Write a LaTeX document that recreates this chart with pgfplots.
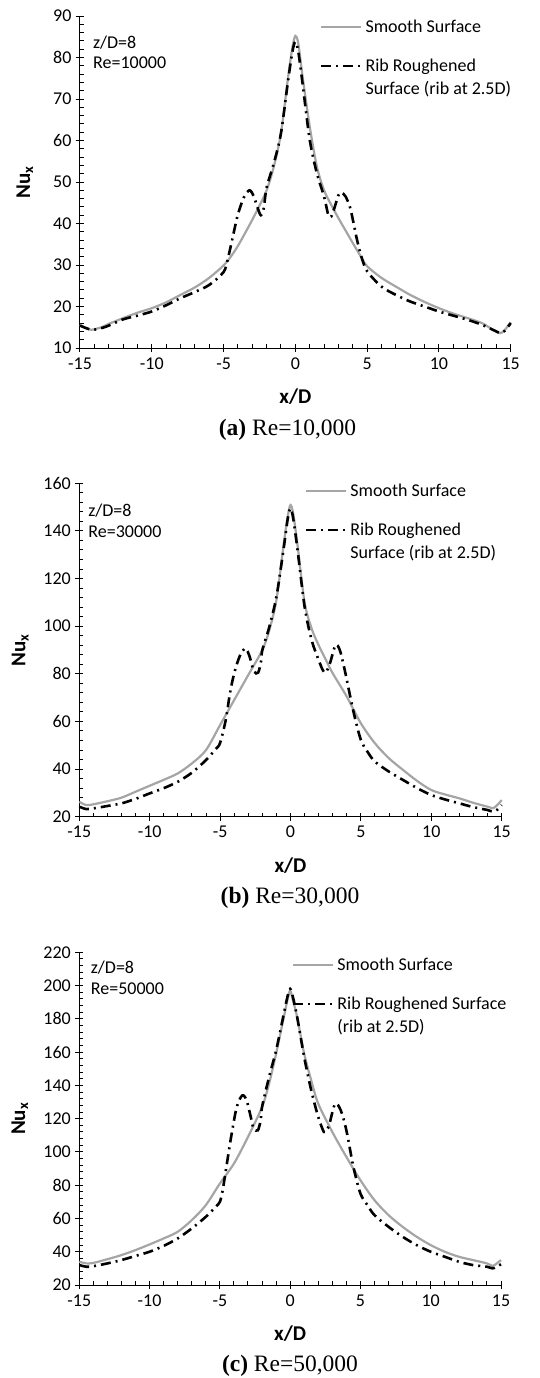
\documentclass[border=0pt]{standalone}
\usepackage{fontspec}
\setmainfont{Carlito}
\newfontfamily\capfont{Liberation Serif}
\usepackage{pgfplots}
\pgfplotsset{compat=1.18}

\definecolor{smoothgray}{RGB}{165,165,165}
\newcommand{\tickfont}{\fontsize{18}{21}\selectfont}
\newcommand{\labfont}{\fontsize{21}{24}\selectfont\bfseries}
\newcommand{\capsize}{\fontsize{23.5}{26}\selectfont}

\pgfplotsset{
  panel/.style={
    scale only axis, clip=false,
    xmin=-15, xmax=15, xtick={-15,-10,...,15},
    minor x tick num=4, minor y tick num=4,
    axis x line=bottom, axis y line=left,
    axis line style={-, black, line width=1pt},
    tick style={black, line width=1pt},
    tick align=center, major tick length=8pt, minor tick length=4pt,
    minor x tick style={yshift=2pt}, minor y tick style={xshift=2pt},
    ticklabel style={font=\tickfont},
    xticklabel style={yshift=-2pt}, yticklabel style={xshift=-1pt},
    /pgf/number format/assume math mode=true,
    xlabel={x/D}, ylabel={Nu\textsubscript{x}},
    label style={font=\labfont},
    xlabel style={at={(axis description cs:0.5,0)}, anchor=center, yshift=-49pt},
    legend style={draw=none, fill=none, inner sep=0pt, outer sep=0pt,
      font=\tickfont, anchor=north west, row sep=6.6pt, column sep=3pt,
      cells={anchor=base west},
      nodes={inner sep=0pt, text height=12pt, text depth=4pt}},
    legend image code/.code={\draw[#1] (0pt,5.8pt) -- (40pt,5.8pt);},
  },
  smoothline/.style={smoothgray, line width=2.2pt, smooth},
  ribline/.style={black, line width=2.6pt, smooth, dash pattern=on 10pt off 5pt on 2pt off 5pt},
}

\begin{document}
\begin{tikzpicture}[x=1pt,y=1pt]
\useasboundingbox (0,0) rectangle (539,-1378);

% ---------------- (a) Re=10,000
\begin{axis}[panel, at={(80pt,-348pt)}, anchor=south west,
  width=430.7pt, height=332pt,
  ymin=10, ymax=90, ytick={10,20,...,90},
  ylabel style={at={(axis description cs:-0.128,0.5)}, anchor=center},
  legend style={at={(axis description cs:0.557,0.986)}},
]
\addplot[smoothline] coordinates {
(-15,15.6) (-14.6,14.8) (-14.2,14.4) (-13.5,15.0) (-13,15.8) (-12,17.2) (-11,18.5)
(-10,19.6) (-9,21.0) (-8,22.8) (-7,24.6) (-6,26.9) (-5,29.9) (-4.5,32.0) (-4,34.6)
(-3.5,37.7) (-3,40.9) (-2.5,44.3) (-2,48) (-1.5,53.7) (-1,61.8) (-0.5,75.4) (-0.2,82.5)
(0,85.2) (0.2,83.5) (0.5,75.5) (1,63.4) (1.5,53.7) (2,48) (2.5,44.5) (3,41.3) (3.5,38.3)
(4,35.3) (4.5,32.4) (5,29.7) (6,26.9) (7,24.8) (8,22.8) (9,21.1) (10,19.6) (11,18.3)
(12,17.2) (13,16.0) (13.8,14.3) (14.2,13.6) (14.5,14.0) (15,16.2)};
\addlegendentry[text depth=20.4pt]{Smooth Surface}
\addplot[ribline] coordinates {
(-15,15.4) (-14.2,14.4) (-13.5,14.8) (-13,15.4) (-12,16.9) (-11,17.8) (-10,18.8)
(-9,20.3) (-8,22.0) (-7,23.5) (-6,25.2) (-5,28.3) (-4.7,31.5) (-4.3,37.7) (-4,42.2)
(-3.6,46.2) (-3.2,48) (-2.9,46.6) (-2.6,43.5) (-2.4,42) (-2.2,43.7) (-2,48.7) (-1.5,54.5)
(-1,61.8) (-0.5,74.6) (-0.2,81.5) (0,83.8) (0.2,81.5) (0.5,73.8) (1,60.2) (1.5,52.1)
(2,46.5) (2.3,42) (2.5,41.7) (2.7,43.5) (3,46.8) (3.2,47.5) (3.5,46.5) (3.8,44) (4,41)
(4.3,36) (4.6,32) (5,28.5) (6,24.8) (7,22.8) (8,21.2) (9,20.0) (10,18.8) (11,17.8)
(12,16.8) (13,15.6) (14,14.0) (14.3,13.6) (14.6,14.2) (15,16.0)};
\addlegendentry{Rib Roughened}
\addlegendimage{empty legend}
\addlegendentry{Surface (rib at 2.5D)}
\node[anchor=base west, font=\tickfont, inner sep=0pt] at (axis description cs:0.030,0.903) {z/D=8};
\node[anchor=base west, font=\tickfont, inner sep=0pt] at (axis description cs:0.030,0.8425) {Re=10000};
\end{axis}
\node[anchor=base, font=\capfont\capsize, inner sep=0pt] at (287.5,-435) {\textbf{(a)} Re=10,000};

% ---------------- (b) Re=30,000
\begin{axis}[panel, at={(79.3pt,-816.7pt)}, anchor=south west,
  width=422.4pt, height=333.4pt,
  ymin=20, ymax=160, ytick={20,40,...,160},
  ylabel style={at={(axis description cs:-0.140,0.5)}, anchor=center},
  legend style={at={(axis description cs:0.534,0.996)}},
]
\addplot[smoothline] coordinates {
(-15,26.3) (-14.7,25.3) (-14.3,24.9) (-13,26.5) (-12,28.0) (-11,30.5) (-10,33.0)
(-9,35.5) (-8,38.2) (-7,42.4) (-6,48) (-5,58.5) (-4,69) (-3,79.5) (-2,90) (-1.5,98.4)
(-1,111) (-0.5,133.6) (-0.2,146) (0,150.9) (0.2,147) (0.5,134) (1,110) (1.5,99) (2,92)
(2.5,86) (3,80.2) (4,70.4) (5,59.2) (6,50.8) (7,44.5) (8,39.6) (9,35) (10,31.2)
(11,29.3) (12,27.7) (13,25.8) (14,24.2) (14.4,23.6) (14.7,25) (15,27)};
\addlegendentry[text depth=20.4pt]{Smooth Surface}
\addplot[ribline] coordinates {
(-15,24.2) (-14.5,23.2) (-14,23.5) (-13,24.5) (-12,25.6) (-11,27.5) (-10,29.8) (-9,32)
(-8,34.7) (-7,38.5) (-6,43.8) (-5.3,48.5) (-5,51) (-4.6,60.6) (-4.3,71.8) (-4,80.2)
(-3.6,87.5) (-3.2,90.7) (-2.9,87.2) (-2.6,81) (-2.3,80.5) (-2.1,85) (-2,90) (-1.5,99.8)
(-1,112.4) (-0.5,132) (-0.2,145) (0,149.5) (0.2,145) (0.5,132) (1,108.2) (1.5,94.2)
(2,85.8) (2.3,81.5) (2.5,80.5) (2.8,84.4) (3.2,92.1) (3.5,90) (3.8,83) (4,77.4)
(4.5,63.4) (5,52.2) (5.5,47) (6,43.1) (7,38.9) (8,35.4) (9,32) (10,29.1) (11,27.2)
(12,25.6) (13,24) (14,22.8) (14.4,22.1) (14.7,23) (15,24.9)};
\addlegendentry{Rib Roughened}
\addlegendimage{empty legend}
\addlegendentry{Surface (rib at 2.5D)}
\node[anchor=base west, font=\tickfont, inner sep=0pt] at (axis description cs:0.021,0.900) {z/D=8};
\node[anchor=base west, font=\tickfont, inner sep=0pt] at (axis description cs:0.021,0.838) {Re=30000};
\end{axis}
\node[anchor=base, font=\capfont\capsize, inner sep=0pt] at (290,-903.3) {\textbf{(b)} Re=30,000};

% ---------------- (c) Re=50,000
\begin{axis}[panel, at={(79.3pt,-1285pt)}, anchor=south west,
  width=421.7pt, height=332.7pt,
  ymin=20, ymax=220, ytick={20,40,...,220},
  ylabel style={at={(axis description cs:-0.141,0.5)}, anchor=center},
  legend style={at={(axis description cs:0.504,0.981)}},
]
\addplot[smoothline] coordinates {
(-15,34) (-14.5,33) (-14,33.3) (-13,35.5) (-12,38) (-11,41) (-10,44.4) (-9,48) (-8,52)
(-7,59) (-6,68) (-5,81) (-4,93) (-3,109) (-2,127) (-1.5,141) (-1,159) (-0.5,179)
(-0.2,191) (0,197) (0.2,191) (0.5,181) (1,159) (1.5,143) (2,129) (3,112) (4,97) (5,83)
(6,71) (7,62) (8,55) (9,49) (10,44) (11,40) (12,37) (13,35) (14,33) (14.4,31.5)
(14.7,33) (15,35)};
\addlegendentry[text depth=20.4pt]{Smooth Surface}
\addplot[ribline] coordinates {
(-15,32) (-14.5,31) (-14,31.3) (-13,33) (-12,35) (-11,37.5) (-10,40) (-9,43.5) (-8,48)
(-7,54) (-6,61) (-5.3,67) (-5,70) (-4.8,77) (-4.5,93) (-4.2,109) (-3.8,127) (-3.4,134)
(-3.1,131) (-2.8,121) (-2.6,114) (-2.3,113) (-2.1,119) (-2,127) (-1.5,145) (-1,161)
(-0.5,181) (-0.2,193) (0,198) (0.2,193) (0.5,181) (1,157) (1.5,137) (2,121) (2.4,112)
(2.6,113) (2.8,117) (3.2,129) (3.6,125) (4,113) (4.5,91) (5,75) (5.5,68) (6,62) (7,55)
(8,49) (9,44) (10,40) (11,37) (12,34) (13,32) (14,31) (14.4,30) (14.7,31) (15,32.5)};
\addlegendentry{Rib Roughened Surface}
\addlegendimage{empty legend}
\addlegendentry{(rib at 2.5D)}
\node[anchor=base west, font=\tickfont, inner sep=0pt] at (axis description cs:0.027,0.937) {z/D=8};
\node[anchor=base west, font=\tickfont, inner sep=0pt] at (axis description cs:0.027,0.872) {Re=50000};
\end{axis}
\node[anchor=base, font=\capfont\capsize, inner sep=0pt] at (290,-1371.7) {\textbf{(c)} Re=50,000};
\end{tikzpicture}
\end{document}
